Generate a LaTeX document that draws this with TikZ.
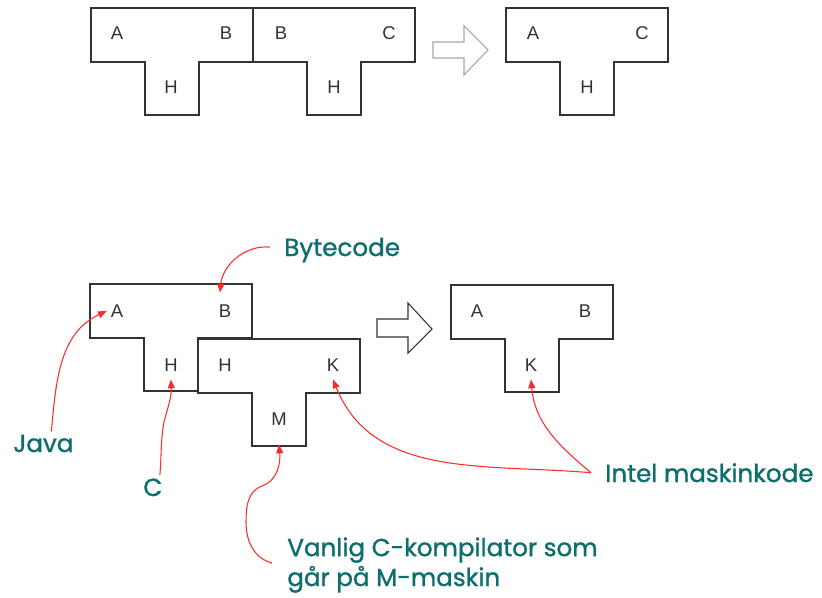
\documentclass[tikz,border=0pt]{standalone}
\usepackage{fontspec}
\setmainfont{Liberation Sans}
\newfontfamily\notefont{Poppins}[BoldFont={Poppins},BoldFeatures={FakeBold=1.2}]
\usepackage{xcolor}
\definecolor{NoteTeal}{HTML}{0E6E6E}
\definecolor{NoteRed}{HTML}{FF2A2A}
\definecolor{EdgeGray}{HTML}{333333}
\usetikzlibrary{calc,arrows.meta}

\begin{document}
\begin{tikzpicture}[x=0.02cm,y=0.02cm,
 tee/.style={draw=EdgeGray,line width=0.9pt,fill=white},
 letter/.style={font=\fontsize{10.5}{12}\selectfont,text=black!80,inner sep=1pt},
 note/.style={font=\notefont\bfseries\fontsize{14}{17}\selectfont,text=NoteTeal,inner sep=0pt,anchor=base west,align=left},
 hint/.style={NoteRed,line width=0.6pt,-{Triangle[length=5pt,width=4pt]}},
 bigarrow/.style={line width=0.6pt,fill=white}]
\useasboundingbox (0,0) rectangle (822,-598);
% T-diagrams, top-left corners
\foreach \x/\y in {91/8,253/8,506/8,90/284,198/339,451/285}
 \draw[tee] (\x,-\y) -- ++(162,0) -- ++(0,-54) -- ++(-54,0) -- ++(0,-53)
  -- ++(-54,0) -- ++(0,53) -- ++(-54,0) -- cycle;
% hollow arrows
\draw[bigarrow,draw=black!35] (433,-42) -- (464,-42) -- (464,-26) -- (488,-50)
 -- (464,-75) -- (464,-58) -- (433,-58) -- cycle;
\draw[bigarrow,draw=EdgeGray] (377,-319) -- (408,-319) -- (408,-303) -- (432,-329)
 -- (408,-353) -- (408,-337) -- (377,-337) -- cycle;
% letters, top row
\node[letter] (a1) at (117,-33) {A}; \node[letter] (b1) at (226,-33) {B};
\node[letter] (h1) at (171,-87) {H};
\node[letter] (b2) at (281,-33) {B}; \node[letter] (c2) at (389,-33) {C};
\node[letter] (h2) at (334,-87) {H};
\node[letter] (a3) at (533,-33) {A}; \node[letter] (c3) at (642,-33) {C};
\node[letter] (h3) at (587,-87) {H};
% letters, bottom row
\node[letter] (a4) at (117,-311) {A}; \node[letter] (b4) at (225,-311) {B};
\node[letter] (h4) at (171,-365) {H};
\node[letter] (h5) at (225,-365) {H}; \node[letter] (k5) at (333,-365) {K};
\node[letter] (m5) at (279,-419) {M};
\node[letter] (a6) at (477,-311) {A}; \node[letter] (b6) at (585,-311) {B};
\node[letter] (k6) at (531,-365) {K};
% notes
\node[note] (bytecode) at (284,-256) {Bytecode};
\node[note] (java) at (13,-452) {Java};
\node[note] (ccomp) at (143,-496) {C};
\node[note] (intel) at (605,-482) {Intel maskinkode};
\node[note] (vanlig) at (287,-586) {Vanlig C-kompilator som\\går på M-maskin};
% pointers
\draw[hint] ($(bytecode.west)+(-14,3)$) to[out=175,in=85] ($(b4.north)+(-5,10)$);
\draw[hint] ($(java.north)+(8,3)$) to[out=85,in=205] ($(a4.west)+(-2,0)$);
\draw[hint] ($(ccomp.north)+(7,3)$) to[out=85,in=-100] (164,-422)
 to[out=75,in=-88] ($(h4.south)+(0,-6)$);
\draw[hint] ($(vanlig.west)+(-15,2)$) to[out=165,in=-90] (246,-522)
 to[out=90,in=200] (262,-486) to[out=20,in=-85] ($(m5.south)+(0,-17)$);
\draw[hint] ($(intel.west)+(-14,0)$) to[out=175,in=-68] ($(k5.south)+(0,-6)$);
\draw[hint] ($(intel.west)+(-14,0)$) to[out=140,in=-85] ($(k6.south)+(0,-6)$);
\end{tikzpicture}
\end{document}
